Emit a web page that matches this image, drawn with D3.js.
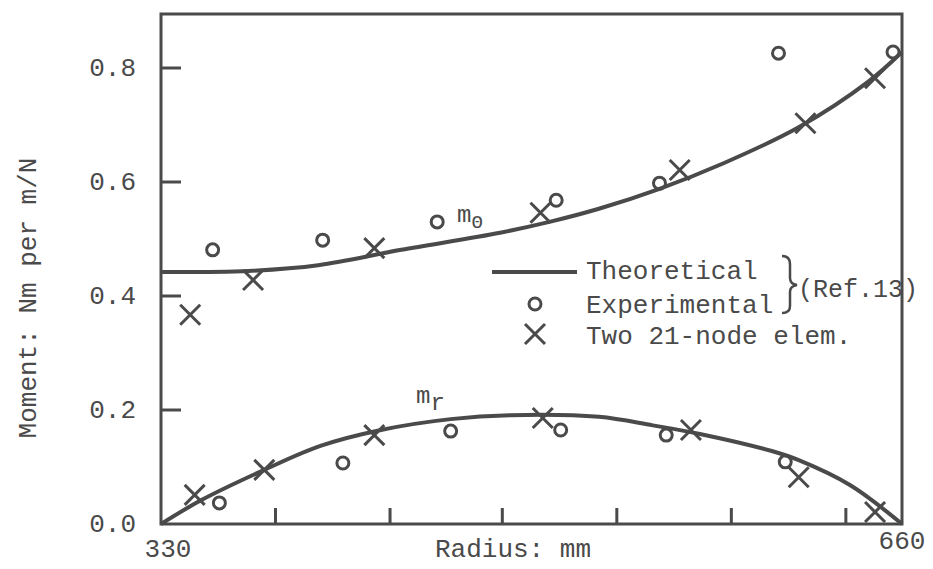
<!DOCTYPE html>
<html>
<head>
<meta charset="utf-8">
<script src="https://cdn.jsdelivr.net/npm/d3@7"></script>
<style>
  body { margin: 0; background: #fff; }
  text { font-family: "Liberation Mono", "DejaVu Sans Mono", monospace; fill: #4a4a4a; }
</style>
</head>
<body>
<div id="canvas"></div>
<script>
"use strict"

let svgWidth = 933
let svgHeight = 569
let ink = "#4a4a4a"

/* Data (radius in mm, moment in Nm per m/N) */
let thetaRadius = [330, 369, 400, 437, 481, 503, 525, 552, 580, 614, 645, 660]
let thetaTheory = [0.442, 0.444, 0.454, 0.481, 0.511, 0.530, 0.553, 0.588, 0.632, 0.696, 0.776, 0.828]

let rRadius = [330, 348, 376, 401, 428, 459, 486, 525, 549, 570, 602, 614, 637, 660]
let rTheory = [0, 0.042, 0.095, 0.137, 0.165, 0.184, 0.191, 0.188, 0.173, 0.158, 0.128, 0.112, 0.068, 0]

let expRadius = [353, 402, 453, 506, 552, 605, 656, 356, 411, 459, 508, 555, 608]
let expValue = [0.481, 0.498, 0.530, 0.568, 0.598, 0.826, 0.828, 0.037, 0.107, 0.163, 0.165, 0.156, 0.109]

let femRadius = [343, 371, 425, 499, 561, 617, 648, 345, 376, 425, 500, 566, 614, 648]
let femValue = [0.367, 0.428, 0.484, 0.546, 0.621, 0.703, 0.782, 0.051, 0.095, 0.156, 0.186, 0.165, 0.082, 0.021]

let yTicks = [0.0, 0.2, 0.4, 0.6, 0.8]
let xTicks = [381, 432, 482, 533, 584, 635]

let svg = d3.select("#canvas")
    .append("svg")
    .attr("width", svgWidth)
    .attr("height", svgHeight)

/* Scales */
let xScale = d3.scaleLinear()
    .domain([330, 660])
    .range([161, 902])

let yScale = d3.scaleLinear()
    .domain([0, 0.8])
    .range([524, 68])

let plotLeft = xScale(330), plotRight = xScale(660)
let plotBottom = yScale(0), plotTop = 14

/* frame */
svg.append("rect")
    .attr("x", plotLeft)
    .attr("y", plotTop)
    .attr("width", plotRight - plotLeft)
    .attr("height", plotBottom - plotTop)
    .attr("fill", "none")
    .attr("stroke", ink)
    .attr("stroke-width", 3)

/* inner ticks */
svg.selectAll("line.yTick")
    .data(yTicks.slice(1))
    .join("line")
    .attr("class", "yTick")
    .attr("x1", plotLeft)
    .attr("x2", plotLeft + 20)
    .attr("y1", d => yScale(d))
    .attr("y2", d => yScale(d))
    .attr("stroke", ink)
    .attr("stroke-width", 3)

svg.selectAll("line.xTick")
    .data(xTicks)
    .join("line")
    .attr("class", "xTick")
    .attr("x1", d => xScale(d))
    .attr("x2", d => xScale(d))
    .attr("y1", plotBottom)
    .attr("y2", plotBottom - 16)
    .attr("stroke", ink)
    .attr("stroke-width", 3)

/* tick numbers */
svg.selectAll("text.yLabel")
    .data(yTicks)
    .join("text")
    .attr("class", "yLabel")
    .attr("x", 136)
    .attr("y", d => yScale(d) + 8)
    .attr("text-anchor", "end")
    .attr("font-size", 26)
    .text(d => d.toFixed(1))

svg.append("text")
    .attr("x", xScale(330) + 7)
    .attr("y", 557)
    .attr("text-anchor", "middle")
    .attr("font-size", 26)
    .text("330")

svg.append("text")
    .attr("x", xScale(660))
    .attr("y", 549)
    .attr("text-anchor", "middle")
    .attr("font-size", 26)
    .text("660")

/* axis titles */
svg.append("text")
    .attr("x", 513)
    .attr("y", 557)
    .attr("text-anchor", "middle")
    .attr("font-size", 26)
    .text("Radius: mm")

svg.append("text")
    .attr("transform", "translate(36,298) rotate(-90)")
    .attr("text-anchor", "middle")
    .attr("font-size", 26)
    .text("Moment: Nm per m/N")

/* theoretical curves */
let line = d3.line()
    .x(d => xScale(d[0]))
    .y(d => yScale(d[1]))
    .curve(d3.curveCatmullRom.alpha(0.5))

svg.append("path")
    .attr("d", line(d3.zip(thetaRadius, thetaTheory)))
    .attr("fill", "none")
    .attr("stroke", ink)
    .attr("stroke-width", 4)

svg.append("path")
    .attr("d", line(d3.zip(rRadius, rTheory)))
    .attr("fill", "none")
    .attr("stroke", ink)
    .attr("stroke-width", 4)

/* experimental points */
svg.selectAll("circle.exp")
    .data(d3.zip(expRadius, expValue))
    .join("circle")
    .attr("class", "exp")
    .attr("cx", d => xScale(d[0]))
    .attr("cy", d => yScale(d[1]))
    .attr("r", 6)
    .attr("fill", "none")
    .attr("stroke", ink)
    .attr("stroke-width", 3)

/* finite element points */
function drawCross(g, cx, cy, s) {
    g.append("path")
        .attr("d", `M${cx - s},${cy - s}L${cx + s},${cy + s}M${cx - s},${cy + s}L${cx + s},${cy - s}`)
        .attr("stroke", ink)
        .attr("stroke-width", 3)
        .attr("fill", "none")
}

let fem = svg.append("g")
d3.zip(femRadius, femValue).forEach(function (d) {
    drawCross(fem, xScale(d[0]), yScale(d[1]), 10)
})

/* curve labels */
let mTheta = svg.append("text")
    .attr("x", 457)
    .attr("y", 222)
    .attr("font-size", 24)
mTheta.append("tspan").text("m")
mTheta.append("tspan").attr("font-size", 19).attr("dy", 6).text("\u0398")

let mR = svg.append("text")
    .attr("x", 416)
    .attr("y", 403)
    .attr("font-size", 24)
mR.append("tspan").text("m")
mR.append("tspan").attr("dy", 7).text("r")

/* legend */
svg.append("line")
    .attr("x1", 492)
    .attr("x2", 577)
    .attr("y1", 272)
    .attr("y2", 272)
    .attr("stroke", ink)
    .attr("stroke-width", 4)

svg.append("text")
    .attr("x", 586)
    .attr("y", 279)
    .attr("font-size", 26)
    .text("Theoretical")

svg.append("circle")
    .attr("cx", 535)
    .attr("cy", 304)
    .attr("r", 6)
    .attr("fill", "none")
    .attr("stroke", ink)
    .attr("stroke-width", 3)

svg.append("text")
    .attr("x", 586)
    .attr("y", 313)
    .attr("font-size", 26)
    .text("Experimental")

drawCross(svg, 535, 334, 10)

svg.append("text")
    .attr("x", 586)
    .attr("y", 344)
    .attr("font-size", 26)
    .text("Two 21-node elem.")

/* brace and reference */
svg.append("path")
    .attr("d", "M782,256 Q790,256 790,264 L790,278 Q790,284 797,285 Q790,286 790,292 L790,306 Q790,313 782,313")
    .attr("fill", "none")
    .attr("stroke", ink)
    .attr("stroke-width", 2.5)

svg.append("text")
    .attr("x", 798)
    .attr("y", 297)
    .attr("font-size", 25)
    .text("(Ref.13)")
</script>
</body>
</html>
